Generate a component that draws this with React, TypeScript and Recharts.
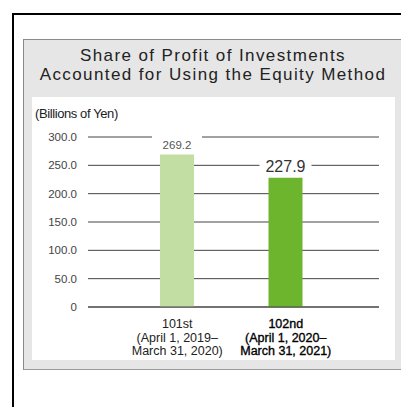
import { BarChart, Bar, XAxis, YAxis, CartesianGrid, Cell, LabelList } from "recharts";

const periods = ["101st", "102nd"];
const periodStart = ["(April 1, 2019–", "(April 1, 2020–"];
const periodEnd = ["March 31, 2020)", "March 31, 2021)"];
const profit = [269.2, 227.9];
const yTicks = [0, 50, 100, 150, 200, 250, 300];
const barColors = ["#c2dea3", "#6db52d"];
const titleLines = ["Share of Profit of Investments", "Accounted for Using the Equity Method"];

const chartData = periods.map((p, i) => ({
  period: p,
  start: periodStart[i],
  end: periodEnd[i],
  profit: profit[i],
}));

const FONT = "'Liberation Sans', Arial, sans-serif";

function PeriodTick(props: any) {
  const { x, y, payload, index } = props;
  const d = chartData[index] ?? chartData.find((c) => c.period === payload.value);
  const strong = index === 1;
  return (
    <g transform={`translate(${x},${y})`}>
      <text
        textAnchor="middle"
        fontSize={12.5}
        fill={strong ? "#000" : "#222"}
        stroke={strong ? "#000" : "none"}
        strokeWidth={strong ? 0.35 : 0}
        fontFamily={FONT}
      >
        <tspan x={0} dy={13}>{payload.value}</tspan>
        <tspan x={0} dy={13.5}>{d?.start}</tspan>
        <tspan x={0} dy={13.5}>{d?.end}</tspan>
      </text>
    </g>
  );
}

function ValueLabel(props: any) {
  const { x, y, width, value, index } = props;
  const cx = x + width / 2;
  const big = index === 1;
  const w = big ? 52 : 50;
  return (
    <g>
      <rect x={cx - w / 2} y={y - 20} width={w} height={18} fill="#fff" />
      <text
        x={cx}
        y={big ? y - 6 : y - 5}
        textAnchor="middle"
        fontSize={big ? 16 : 11.5}
        fill={big ? "#333" : "#555"}
        fontFamily={FONT}
      >
        {value.toFixed(1)}
      </text>
    </g>
  );
}

export default function App() {
  return (
    <div style={{ position: "fixed", left: 0, top: 0, width: 401, height: 407, overflow: "hidden", fontFamily: FONT, background: "#fff" }}>
      <style>{`html,body{margin:0;overflow:hidden}`}</style>
      <div
        style={{
          position: "absolute",
          left: 12,
          top: 13,
          width: 420,
          height: 420,
          border: "2px solid #000",
        }}
      />
      <div
        style={{
          position: "absolute",
          left: 23,
          top: 39,
          width: 400,
          height: 329,
          background: "#e6e6e6",
          borderLeft: "1px solid #8a8a8a",
          borderTop: "1px solid #8a8a8a",
          borderBottom: "1px solid #9a9a9a",
        }}
      />
      {titleLines.map((t, i) => (
        <div
          key={t}
          style={{
            position: "absolute",
            left: 24,
            top: 47 + i * 19,
            width: 378,
            height: 18,
            textAlign: "center",
            fontSize: 17,
            lineHeight: "18px",
            letterSpacing: 1.4,
            color: "#222",
            whiteSpace: "nowrap",
          }}
        >
          {t}
        </div>
      ))}
      <div
        style={{
          position: "absolute",
          left: 32,
          top: 97,
          width: 363,
          height: 263,
          background: "#fff",
        }}
      >
        <div
          style={{
            position: "absolute",
            left: 3,
            top: 9,
            fontSize: 13,
            letterSpacing: -0.4,
            color: "#222",
          }}
        >
          (Billions of Yen)
        </div>
        <BarChart
          width={363}
          height={263}
          data={chartData}
          margin={{ top: 40, right: 16, bottom: 0, left: 0 }}
          style={{ position: "absolute", left: 0, top: 0 }}
        >
          <CartesianGrid vertical={false} stroke="#444" strokeWidth={1} />
          <XAxis
            dataKey="period"
            height={53}
            padding={{ left: 35, right: 39 }}
            tickLine={false}
            axisLine={{ stroke: "#444" }}
            interval={0}
            tick={<PeriodTick />}
          />
          <YAxis
            width={56}
            domain={[0, 300]}
            ticks={yTicks}
            interval={0}
            tickLine={false}
            axisLine={false}
            tickMargin={5}
            tick={{ fontSize: 11.5, fill: "#444", fontFamily: FONT }}
            tickFormatter={(v: number) => (v === 0 ? "0" : v.toFixed(1))}
          />
          <Bar dataKey="profit" barSize={34} isAnimationActive={false}>
            {chartData.map((d, i) => (
              <Cell key={d.period} fill={barColors[i]} />
            ))}
            <LabelList dataKey="profit" content={<ValueLabel />} />
          </Bar>
        </BarChart>
      </div>
    </div>
  );
}
